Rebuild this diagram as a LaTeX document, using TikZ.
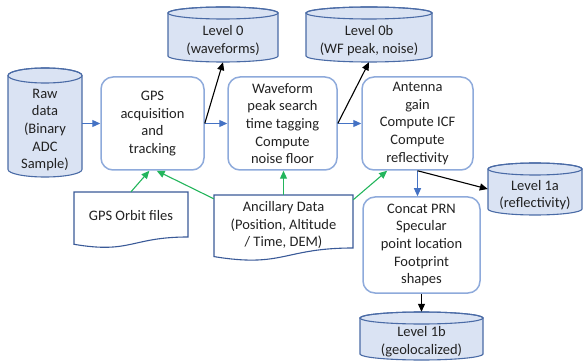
\documentclass[tikz,border=0pt]{standalone}
\usepackage{fontspec}
\setmainfont{Carlito}
\usetikzlibrary{arrows.meta,calc}
\definecolor{cylfill}{HTML}{DAE3F3}
\definecolor{cylline}{HTML}{4A6BA6}
\definecolor{boxline}{HTML}{8EAADB}
\definecolor{docline}{HTML}{3A5A98}
\definecolor{arrblue}{HTML}{4472C4}
\definecolor{arrgreen}{HTML}{23B55C}
\definecolor{txtcol}{HTML}{222222}
\tikzset{
  lbl/.style={font=\fontsize{14.5}{17.7}\selectfont, text=txtcol, align=center, inner sep=0pt},
  procbox/.style={lbl, draw=boxline, line width=1.5pt, rounded corners=12pt, fill=white},
  cylstyle/.style={draw=cylline, line width=1.1pt, fill=cylfill},
  docstyle/.style={draw=docline, line width=1.1pt, fill=white},
  hold/.style={inner sep=0pt, draw=none},
  barrow/.style={draw=arrblue, line width=1.1pt, -{Triangle[length=8pt,width=7pt]}},
  karrow/.style={draw=black, line width=1.1pt, -{Triangle[length=8pt,width=7pt]}},
  garrow/.style={draw=arrgreen, line width=1.1pt, -{Triangle[length=8pt,width=7pt]}},
}
% name, xl, xr, ytop, ybottom, ry, text
\newcommand\dbcyl[7]{%
  \pgfmathsetmacro\dbcx{(#2+#3)/2}%
  \pgfmathsetmacro\dbrx{(#3-#2)/2}%
  \pgfmathsetmacro\dbyt{#4+#6}%
  \pgfmathsetmacro\dbyb{#5-#6}%
  \pgfmathsetmacro\dbw{#3-#2}%
  \pgfmathsetmacro\dbh{#5-#4}%
  \pgfmathsetmacro\dbcy{(#4+#5)/2}%
  \pgfmathsetmacro\dbty{(#4+2*#6+#5)/2}%
  \filldraw[cylstyle] (#2,\dbyt) -- (#2,\dbyb)
     arc[start angle=180,end angle=360,x radius=\dbrx pt,y radius=#6 pt]
     -- (#3,\dbyt)
     arc[start angle=0,end angle=180,x radius=\dbrx pt,y radius=#6 pt] -- cycle;
  \draw[cylstyle, fill=none] (\dbcx,\dbyt) ellipse[x radius=\dbrx pt, y radius=#6 pt];
  \node[hold, minimum width=\dbw pt, minimum height=\dbh pt] (#1) at (\dbcx,\dbcy) {};
  \node[lbl] (#1-t) at (\dbcx,\dbty) {#7};
}
\begin{document}
\begin{tikzpicture}[x=1pt,y=-1pt]
\useasboundingbox (0,0) rectangle (583,363);

% cylinders
\dbcyl{raw}{8}{82}{68}{177}{7.5}{Raw\\data\\(Binary\\ADC\\Sample)}
\dbcyl{l0}{168}{278}{7}{62}{6}{Level 0\\(waveforms)}
\dbcyl{l0b}{306}{432}{7}{62}{6}{Level 0b\\(WF peak, noise)}
\dbcyl{l1a}{488}{582}{163}{215}{6}{Level 1a\\(reflectivity)}
\dbcyl{l1b}{360}{483}{312}{360}{6}{Level 1b\\(geolocalized)}

% process boxes
\node[procbox, minimum width=103pt, minimum height=93pt] (gps) at (152.5,123.5) {GPS\\acquisition\\and\\tracking};
\node[procbox, minimum width=109pt, minimum height=93pt] (wf) at (282.5,123.5) {Waveform\\peak search\\time tagging\\Compute\\noise floor};
\node[procbox, minimum width=111pt, minimum height=93pt] (ant) at (417.5,123.5) {Antenna\\gain\\Compute ICF\\Compute\\reflectivity};
\node[procbox, minimum width=117pt, minimum height=96pt] (con) at (421.5,245) {Concat PRN\\Specular\\point location\\Footprint\\shapes};

% documents
\draw[docstyle] (74,192) -- (188,192) -- (188,237) .. controls (131,237) and (131,254) .. (74,244.3) -- cycle;
\node[hold, minimum width=114pt, minimum height=45pt] (orb) at (131,214.5) {};
\node[lbl] (orb-t) at (131,216) {GPS Orbit files};
\draw[docstyle] (214,195) -- (353,195) -- (353,248) .. controls (283.5,248) and (283.5,268) .. (214,256.6) -- cycle;
\node[hold, minimum width=139pt, minimum height=53pt] (anc) at (283.5,221.5) {};
\node[lbl] (anc-t) at (283.5,225) {Ancillary Data\\(Position, Altitude\\/ Time, DEM)};

% connectors
\draw[barrow] (raw.east |- gps.west) -- (gps.west);
\draw[barrow] (gps.east) -- (wf.west);
\draw[karrow] (gps.east) -- (l0.south);
\draw[barrow] (wf.east) -- (ant.west);
\draw[karrow] (wf.east) -- (l0b.south);
\draw[barrow] (ant.south) -- (ant.south |- con.north);
\draw[karrow] (ant.south) -- (l1a.west);
\draw[karrow] (con.south) -- (l1b.north);

\draw[garrow] (orb.north) -- ($(gps.south west)!0.47!(gps.south east)$);
\draw[garrow] ($(anc.north west)+(0,4)$) -- ($(gps.south west)!0.54!(gps.south east)$);
\draw[garrow] (anc.north) -- (anc.north |- wf.south);
\draw[garrow] ($(anc.north east)+(0,5)$) -- ($(ant.south west)!0.23!(ant.south east)$);
\end{tikzpicture}
\end{document}
